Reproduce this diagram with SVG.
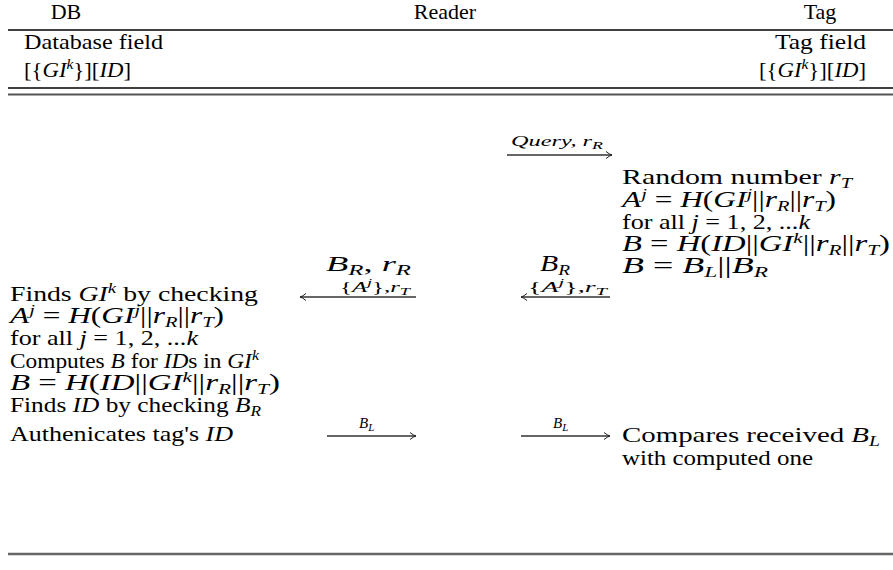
<svg xmlns="http://www.w3.org/2000/svg" width="893" height="570" viewBox="0 0 893 570" font-family="Liberation Serif, DejaVu Serif, serif">
<style>
.t{font-size:22px;fill:#000}
.m{font-size:23px}
.sm{font-size:15px;fill:#000}
.i{font-style:italic}
.s{font-size:15px}
.ss{font-size:11px}
.rule{stroke:#000;stroke-width:1.3}
.arr{stroke:#333;stroke-width:1.4;fill:none}
</style>
<defs>
<marker id="ah" viewBox="-8 -5 10 10" refX="0" refY="0" markerWidth="10" markerHeight="10" markerUnits="userSpaceOnUse" orient="auto">
<path d="M -6 -3.5 Q -2.5 -0.6 0 0 Q -2.5 0.6 -6 3.5" stroke="#222" stroke-width="1" fill="none"/>
</marker>
</defs>
<rect width="893" height="570" fill="#fff"/>
<g id="header">
<text class="t" x="66" y="19" text-anchor="middle">DB</text>
<text class="t" x="445" y="19" text-anchor="middle">Reader</text>
<text class="t" x="820" y="19" text-anchor="middle">Tag</text>
<line class="rule" x1="8" y1="30" x2="893" y2="30"/>
<text class="t" x="24" y="49" textLength="139" lengthAdjust="spacingAndGlyphs">Database field</text>
<text class="t" x="775" y="49" textLength="91" lengthAdjust="spacingAndGlyphs">Tag field</text>
<text class="t" x="24" y="77" textLength="107" lengthAdjust="spacingAndGlyphs">[{<tspan class="i">GI</tspan><tspan class="s i" dy="-8">k</tspan><tspan dy="8">}][</tspan><tspan class="i">ID</tspan>]</text>
<text class="t" x="759" y="77" textLength="107" lengthAdjust="spacingAndGlyphs">[{<tspan class="i">GI</tspan><tspan class="s i" dy="-8">k</tspan><tspan dy="8">}][</tspan><tspan class="i">ID</tspan>]</text>
<line class="rule" x1="8" y1="88" x2="893" y2="88"/>
<line x1="8" y1="94.5" x2="893" y2="94.5" stroke="#555" stroke-width="2"/>
</g>
<g id="tag-step1">
<text class="t" x="622" y="184" textLength="230" lengthAdjust="spacingAndGlyphs">Random number <tspan class="i">r</tspan><tspan class="s i" dy="4">T</tspan></text>
<text class="t m" x="622" y="207" textLength="214" lengthAdjust="spacingAndGlyphs"><tspan class="i">A</tspan><tspan class="s i" dy="-8">j</tspan><tspan dy="8"> = </tspan><tspan class="i">H</tspan>(<tspan class="i">GI</tspan><tspan class="s i" dy="-8">j</tspan><tspan dy="8">||</tspan><tspan class="i">r</tspan><tspan class="s i" dy="4">R</tspan><tspan dy="-4">||</tspan><tspan class="i">r</tspan><tspan class="s i" dy="4">T</tspan><tspan dy="-4">)</tspan></text>
<text class="t" x="622" y="229" textLength="188" lengthAdjust="spacingAndGlyphs">for all <tspan class="i">j</tspan> = 1, 2, ...<tspan class="i">k</tspan></text>
<text class="t m" x="622" y="251" textLength="268" lengthAdjust="spacingAndGlyphs"><tspan class="i">B</tspan> = <tspan class="i">H</tspan>(<tspan class="i">ID</tspan>||<tspan class="i">GI</tspan><tspan class="s i" dy="-8">k</tspan><tspan dy="8">||</tspan><tspan class="i">r</tspan><tspan class="s i" dy="4">R</tspan><tspan dy="-4">||</tspan><tspan class="i">r</tspan><tspan class="s i" dy="4">T</tspan><tspan dy="-4">)</tspan></text>
<text class="t m" x="622" y="273" textLength="146" lengthAdjust="spacingAndGlyphs"><tspan class="i">B</tspan> = <tspan class="i">B</tspan><tspan class="s i" dy="4">L</tspan><tspan dy="-4">||</tspan><tspan class="i">B</tspan><tspan class="s i" dy="4">R</tspan></text>
</g>
<g id="reader-mid">
<text class="t" x="326" y="271" textLength="85" lengthAdjust="spacingAndGlyphs"><tspan class="i">B</tspan><tspan class="s i" dy="4">R</tspan><tspan dy="-4">, </tspan><tspan class="i">r</tspan><tspan class="s i" dy="4">R</tspan></text>
<text class="t m" x="540" y="271" textLength="30" lengthAdjust="spacingAndGlyphs"><tspan class="i">B</tspan><tspan class="s i" dy="4">R</tspan></text>
</g>
<g id="db-step">
<text class="t" x="10" y="301" textLength="248" lengthAdjust="spacingAndGlyphs">Finds <tspan class="i">GI</tspan><tspan class="s i" dy="-8">k</tspan><tspan dy="8"> by checking</tspan></text>
<text class="t m" x="10" y="323" textLength="214" lengthAdjust="spacingAndGlyphs"><tspan class="i">A</tspan><tspan class="s i" dy="-8">j</tspan><tspan dy="8"> = </tspan><tspan class="i">H</tspan>(<tspan class="i">GI</tspan><tspan class="s i" dy="-8">j</tspan><tspan dy="8">||</tspan><tspan class="i">r</tspan><tspan class="s i" dy="4">R</tspan><tspan dy="-4">||</tspan><tspan class="i">r</tspan><tspan class="s i" dy="4">T</tspan><tspan dy="-4">)</tspan></text>
<text class="t" x="10" y="345" textLength="188" lengthAdjust="spacingAndGlyphs">for all <tspan class="i">j</tspan> = 1, 2, ...<tspan class="i">k</tspan></text>
<text class="t" x="10" y="368" textLength="249" lengthAdjust="spacingAndGlyphs">Computes <tspan class="i">B</tspan> for <tspan class="i">ID</tspan>s in <tspan class="i">GI</tspan><tspan class="s i" dy="-8">k</tspan></text>
<text class="t m" x="10" y="390" textLength="270" lengthAdjust="spacingAndGlyphs"><tspan class="i">B</tspan> = <tspan class="i">H</tspan>(<tspan class="i">ID</tspan>||<tspan class="i">GI</tspan><tspan class="s i" dy="-8">k</tspan><tspan dy="8">||</tspan><tspan class="i">r</tspan><tspan class="s i" dy="4">R</tspan><tspan dy="-4">||</tspan><tspan class="i">r</tspan><tspan class="s i" dy="4">T</tspan><tspan dy="-4">)</tspan></text>
<text class="t" x="10" y="412" textLength="251" lengthAdjust="spacingAndGlyphs">Finds <tspan class="i">ID</tspan> by checking <tspan class="i">B</tspan><tspan class="s i" dy="4">R</tspan></text>
<text class="t" x="10" y="441" textLength="223" lengthAdjust="spacingAndGlyphs">Authenicates tag's <tspan class="i">ID</tspan></text>
</g>
<g id="tag-step2">
<text class="t" x="622" y="442" textLength="258" lengthAdjust="spacingAndGlyphs">Compares received <tspan class="i">B</tspan><tspan class="s i" dy="4">L</tspan></text>
<text class="t" x="622" y="465" textLength="191" lengthAdjust="spacingAndGlyphs">with computed one</text>
</g>
<g id="connectors">
<line class="arr" x1="507" y1="155" x2="612" y2="155" marker-end="url(#ah)"/>
<text class="sm i" x="511" y="146" textLength="92" lengthAdjust="spacingAndGlyphs">Query, r<tspan class="ss" dy="3">R</tspan></text>
<line class="arr" x1="416" y1="297" x2="300" y2="297" marker-end="url(#ah)"/>
<text class="sm" x="340" y="292" textLength="70" lengthAdjust="spacingAndGlyphs">{<tspan class="i">A</tspan><tspan class="ss i" dy="-6">j</tspan><tspan dy="6">},</tspan><tspan class="i">r</tspan><tspan class="ss i" dy="3">T</tspan></text>
<line class="arr" x1="610" y1="297" x2="521" y2="297" marker-end="url(#ah)"/>
<text class="sm" x="528" y="292" textLength="79" lengthAdjust="spacingAndGlyphs">{<tspan class="i">A</tspan><tspan class="ss i" dy="-6">j</tspan><tspan dy="6">},</tspan><tspan class="i">r</tspan><tspan class="ss i" dy="3">T</tspan></text>
<line class="arr" x1="327" y1="436" x2="416" y2="436" marker-end="url(#ah)"/>
<text class="sm i" x="359" y="428">B<tspan class="ss" dy="3">L</tspan></text>
<line class="arr" x1="521" y1="436" x2="610" y2="436" marker-end="url(#ah)"/>
<text class="sm i" x="553" y="428">B<tspan class="ss" dy="3">L</tspan></text>
</g>
<line x1="8" y1="554" x2="893" y2="554" stroke="#666" stroke-width="2.5"/>
</svg>
